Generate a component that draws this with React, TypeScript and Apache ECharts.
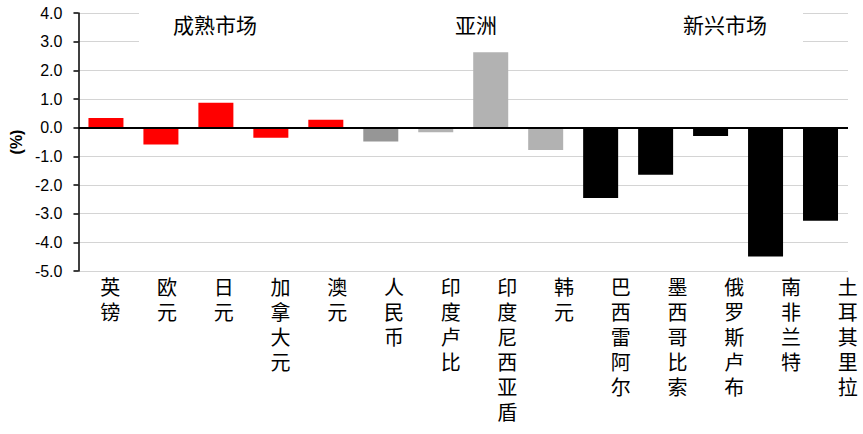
import React, { useRef, useEffect } from 'react';
import * as echarts from 'echarts';

const categories = ['英镑', '欧元', '日元', '加拿大元', '澳元', '人民币', '印度卢比', '印度尼西亚盾', '韩元', '巴西雷阿尔', '墨西哥比索', '俄罗斯卢布', '南非兰特', '土耳其里拉'];
const values = [0.34, -0.59, 0.87, -0.35, 0.28, -0.48, -0.16, 2.63, -0.78, -2.45, -1.64, -0.29, -4.49, -3.25];
const barColors = ['#FF0000', '#FF0000', '#FF0000', '#FF0000', '#FF0000', '#969696', '#B2B2B2', '#B2B2B2', '#B2B2B2', '#000000', '#000000', '#000000', '#000000', '#000000'];
const groupLabels = ['成熟市场', '亚洲', '新兴市场'];
const yMin = -5;
const yMax = 4;

const FONT = '"Liberation Sans", Arial, sans-serif';
const CJK = '"Noto Sans CJK SC", sans-serif';

const App: React.FC = () => {
    const chartRef = useRef<HTMLDivElement>(null);

    useEffect(() => {
        if (!chartRef.current) return;
        document.body.style.overflow = 'hidden';
        const chart = echarts.init(chartRef.current, null, { renderer: 'svg' });

        const groupX = [215, 476, 725];

        const option: echarts.EChartsOption = {
            animation: false,
            backgroundColor: '#fff',
            grid: [
                { left: 71, top: 13, width: 777, height: 258 },
                // the category names run on a slightly wider band than the bars (Excel quirk)
                { left: 82, top: 13, width: 794, height: 258 }
            ],
            xAxis: [
                {
                    type: 'category',
                    gridIndex: 0,
                    data: categories,
                    axisLine: { show: false },
                    axisTick: { show: false },
                    axisLabel: { show: false }
                },
                {
                    type: 'category',
                    gridIndex: 1,
                    data: categories,
                    axisLine: { show: false },
                    axisTick: { show: false },
                    axisLabel: {
                        color: '#000',
                        fontFamily: CJK,
                        fontSize: 20,
                        lineHeight: 25,
                        margin: 3,
                        verticalAlign: 'top',
                        formatter: (v: string) => v.split('').join('\n')
                    }
                }
            ],
            yAxis: [
                {
                    type: 'value',
                    gridIndex: 0,
                    min: yMin,
                    max: yMax,
                    interval: 1,
                    name: '(%)',
                    nameLocation: 'middle',
                    nameRotate: 90,
                    nameGap: 50,
                    nameTextStyle: { color: '#000', fontFamily: FONT, fontSize: 16, fontWeight: 'bold' },
                    axisLine: { show: true, lineStyle: { color: '#000', width: 1.5 } },
                    axisTick: { show: true, length: 5, inside: false, lineStyle: { color: '#000', width: 1.5 } },
                    axisLabel: {
                        color: '#000',
                        fontFamily: FONT,
                        fontSize: 16,
                        margin: 16,
                        formatter: (v: number) => v.toFixed(1)
                    },
                    splitLine: { show: true, lineStyle: { color: '#D4D4D4', width: 1.2 } }
                },
                {
                    type: 'value',
                    gridIndex: 1,
                    min: yMin,
                    max: yMax,
                    show: false
                }
            ],
            series: [
                {
                    type: 'bar',
                    xAxisIndex: 0,
                    yAxisIndex: 0,
                    barWidth: 35,
                    data: values.map((v, i) => ({ value: v, itemStyle: { color: barColors[i] } })),
                    markLine: {
                        silent: true,
                        symbol: 'none',
                        label: { show: false },
                        lineStyle: { color: '#000', width: 1.8, type: 'solid' },
                        data: [{ yAxis: 0 }]
                    }
                }
            ],
            graphic: [
                {
                    type: 'rect',
                    z: 5,
                    shape: { x: 139, y: 2, width: 664, height: 48 },
                    style: { fill: '#fff' }
                },
                ...groupLabels.map((t, i) => ({
                    type: 'text' as const,
                    z: 6,
                    x: groupX[i],
                    y: 24,
                    style: {
                        text: t,
                        fill: '#000',
                        font: `21px ${CJK}`,
                        textAlign: 'center' as const,
                        textVerticalAlign: 'middle' as const
                    }
                }))
            ]
        };

        chart.setOption(option);

        return () => {
            chart.dispose();
        };
    }, []);

    // wider than the window so the label band can run past the right edge, as in the original
    return <div ref={chartRef} style={{ position: 'fixed', left: 0, top: 0, width: 900, height: 434 }} />;
};

export default App;
